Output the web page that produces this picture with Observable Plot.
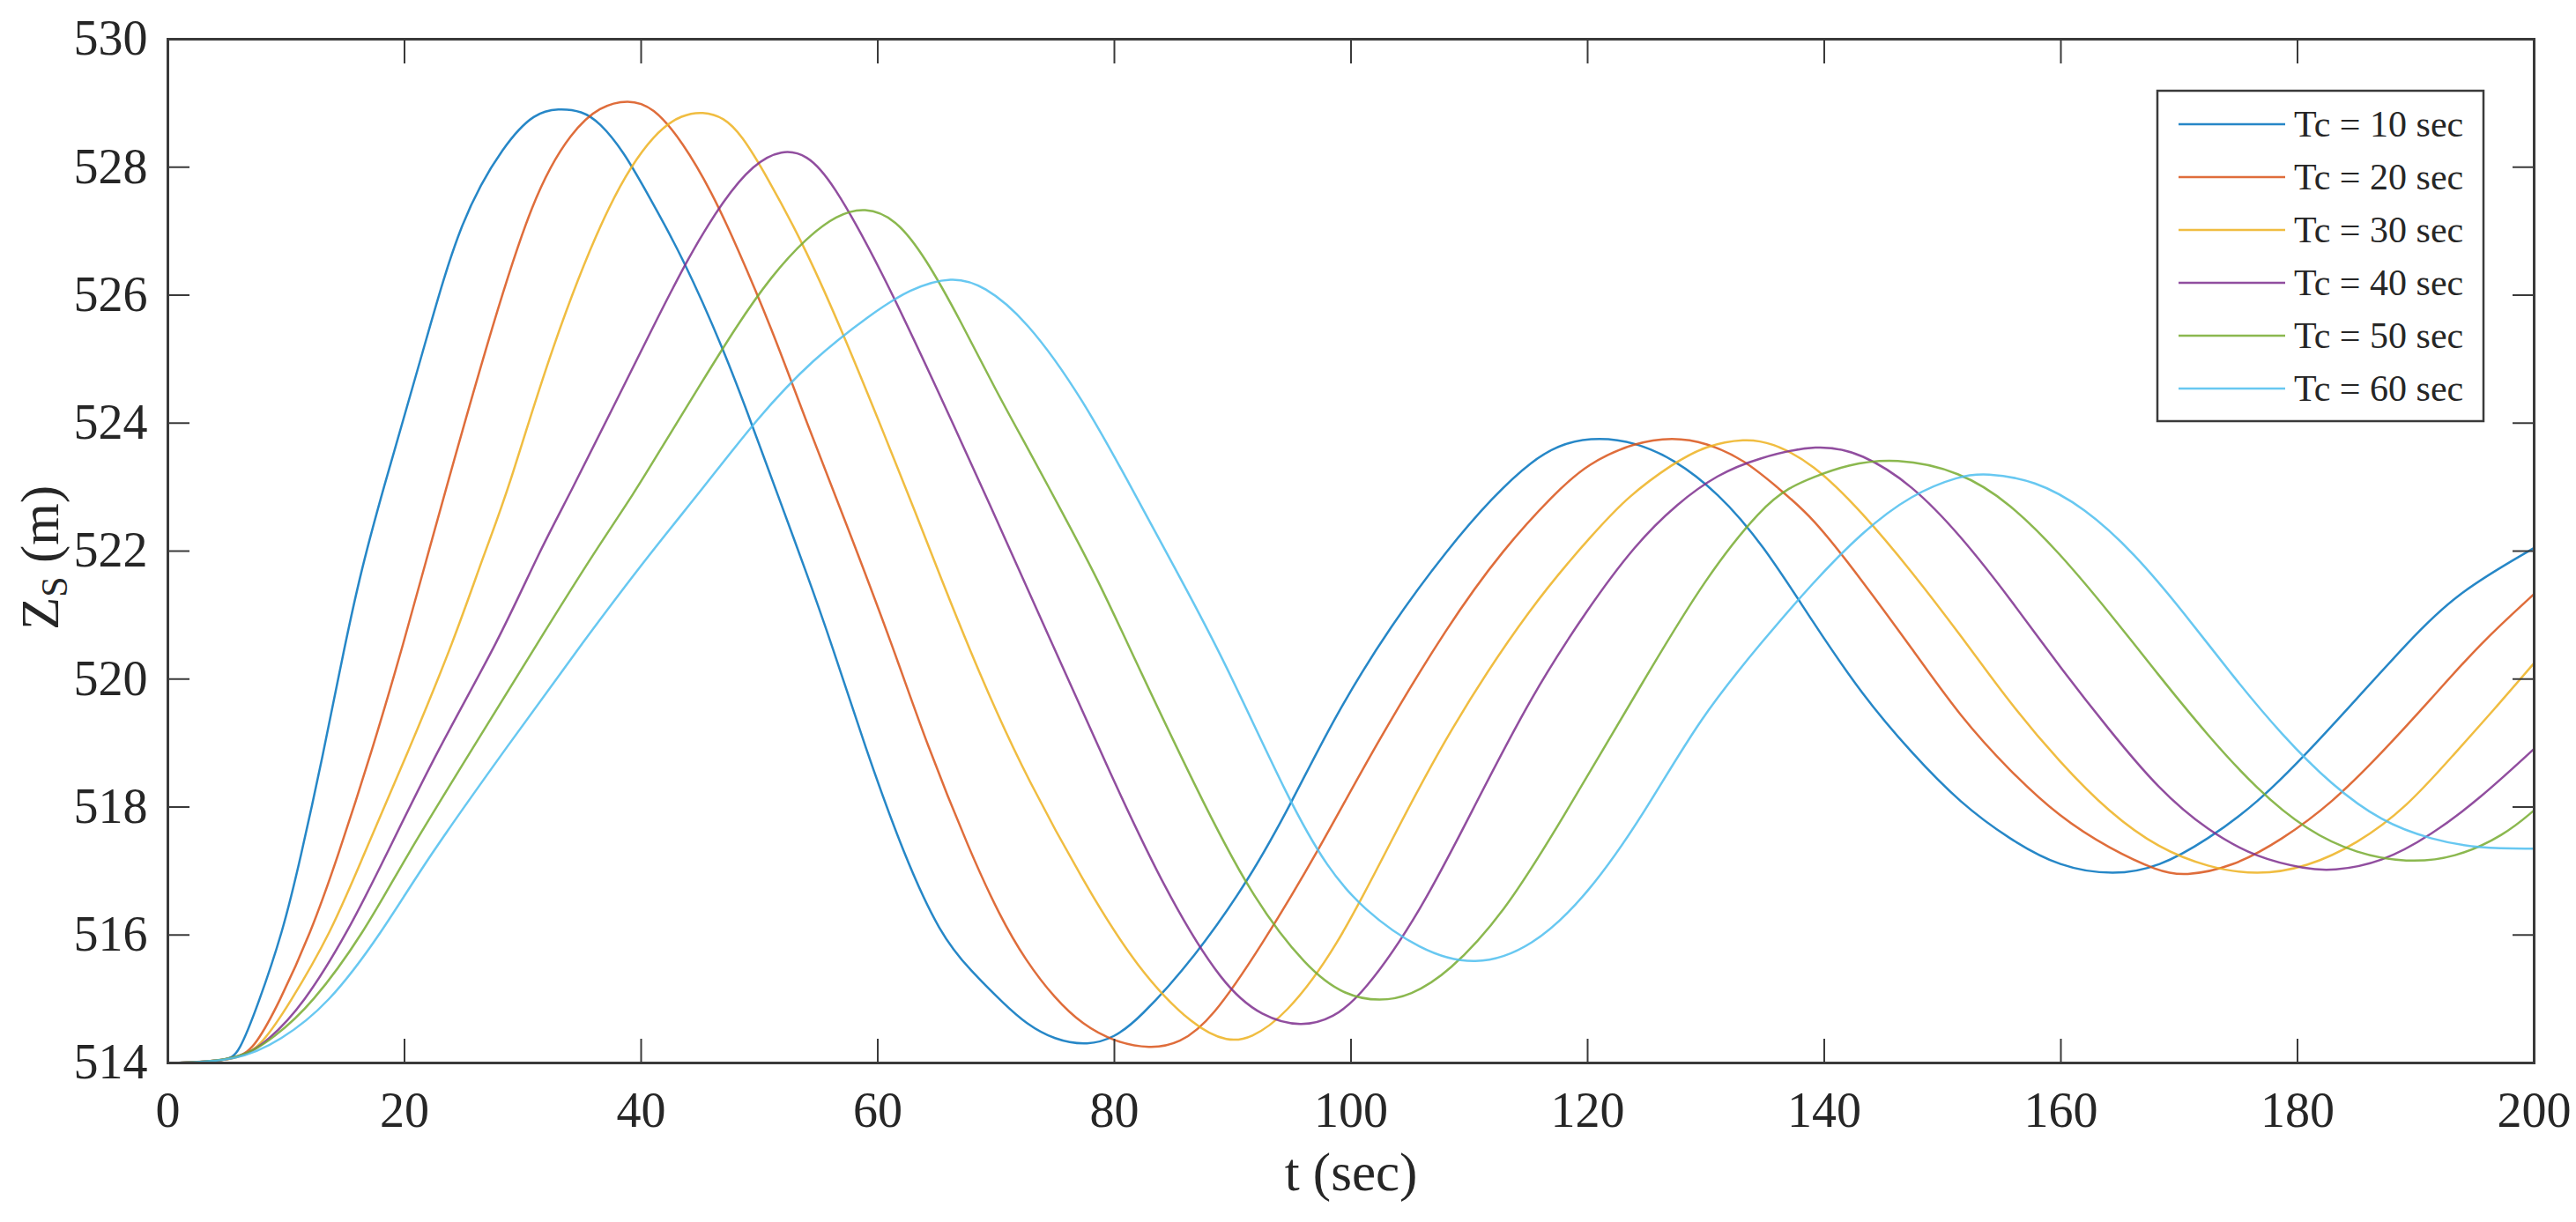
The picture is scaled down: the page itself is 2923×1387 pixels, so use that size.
<!DOCTYPE html>
<html>
<head>
<meta charset="utf-8">
<script src="https://cdn.jsdelivr.net/npm/d3@7"></script>
<script src="https://cdn.jsdelivr.net/npm/@observablehq/plot@0.6"></script>
<style>
  html, body { margin: 0; padding: 0; background: #ffffff; }
  #chart { width: 2923px; height: 1387px; }
</style>
</head>
<body>
<div id="chart"></div>
<script>
// ---------- data ----------
const seriesNames = ["Tc = 10 sec", "Tc = 20 sec", "Tc = 30 sec", "Tc = 40 sec", "Tc = 50 sec", "Tc = 60 sec"];
const seriesColors = ["#0072BD", "#D95319", "#EDB120", "#7E2F8E", "#77AC30", "#4DBEEE"];
const xTicks = [0, 20, 40, 60, 80, 100, 120, 140, 160, 180, 200];
const yTicks = [514, 516, 518, 520, 522, 524, 526, 528, 530];
const xLabel = "t (sec)";
const yLabelMain = "Z";
const yLabelSub = "S";
const yLabelUnit = " (m)";

// [t (sec), Zs (m)]
const tc10 = [[0,514],[5,514.02],[6,514.15],[7.6,514.9],[9.7,516.04],[11.2,517.19],[13.1,518.8],[14.7,520.3],[16.2,521.6],[18,522.85],[21.6,525.14],[24.7,527.2],[28.5,528.38],[31,528.85],[33,528.92],[35,528.88],[36.5,528.7],[38.5,528.25],[40.5,527.6],[43.5,526.6],[47,525.14],[49.4,523.96],[51.5,522.9],[54,521.65],[56.1,520.55],[58.9,518.95],[62.2,517.25],[65.3,516.0],[67.8,515.45],[70.8,514.9],[72.5,514.62],[74.9,514.36],[77.8,514.27],[80,514.4],[82,514.67],[86.8,515.65],[91.5,516.9],[94.9,518.04],[98.7,519.45],[103.4,520.85],[108.2,522.04],[112,522.85],[115.3,523.42],[118,523.7],[121,523.78],[124,523.7],[127.2,523.45],[131,522.92],[134.8,522.11],[139,520.9],[143.2,519.75],[147.4,518.84],[151.5,518.06],[155.7,517.49],[159.9,517.06],[164.5,516.93],[168.3,517.06],[172.4,517.49],[176.6,518.06],[180.8,518.84],[185,519.69],[189.2,520.55],[193.3,521.33],[200,522.05]];
const tc20 = [[0,514],[6,514.03],[7.5,514.3],[9.3,514.9],[12.1,516.04],[14.3,517.19],[17.3,518.9],[20,520.61],[21.9,521.9],[23.4,522.9],[26.8,525.14],[30.9,527.6],[34.2,528.58],[36.5,528.95],[38.9,529.06],[41,528.95],[43.5,528.4],[46,527.6],[48,526.8],[51,525.5],[54,524.0],[57.2,522.5],[61.3,520.5],[64.1,519.0],[67.8,517.3],[70.3,516.3],[72.5,515.6],[75,515.0],[77.3,514.6],[80,514.33],[83,514.22],[85.5,514.3],[88.2,514.67],[92.5,515.85],[97.2,517.3],[102,518.95],[108.2,520.85],[112.9,522.04],[117.2,522.9],[120,523.37],[124,523.7],[127.2,523.78],[130,523.7],[133.3,523.42],[136,523.0],[139,522.54],[143.2,521.54],[147.4,520.48],[151.5,519.41],[155.7,518.56],[159.9,517.84],[164.1,517.35],[168.3,516.99],[170.4,516.92],[174.5,517.06],[178.7,517.49],[182.9,518.06],[187.1,518.84],[191.3,519.69],[195.4,520.55],[200,521.33]];
const tc30 = [[0,514],[6,514.03],[8,514.3],[10.2,514.9],[13.8,516.04],[16.4,517.19],[20.4,518.9],[24.2,520.61],[26.8,522.0],[28.7,522.9],[32.3,525.14],[37.5,527.6],[41.3,528.58],[43.5,528.82],[45.2,528.87],[47,528.78],[48.5,528.5],[50.5,527.9],[54,526.7],[57.3,525.3],[60.6,523.8],[63.2,522.6],[65.5,521.5],[67.9,520.4],[70,519.5],[72.5,518.5],[77.3,516.85],[82,515.45],[86.8,514.55],[89.6,514.33],[91.5,514.38],[94.4,514.73],[98.7,515.76],[103.4,517.47],[108.2,519.18],[115.3,521.18],[120.8,522.34],[123.4,522.85],[127.2,523.37],[130,523.65],[133.3,523.76],[135.5,523.7],[139,523.38],[143.2,522.61],[147.4,521.68],[151.5,520.69],[155.7,519.62],[159.9,518.7],[164.1,517.91],[168.3,517.35],[172.4,517.06],[176.6,516.93],[180.8,517.06],[185,517.42],[189.2,517.99],[193.3,518.84],[196.5,519.5],[200,520.25]];
const tc40 = [[0,514],[6,514.03],[8.5,514.35],[11.4,514.9],[15.2,516.04],[18.3,517.19],[22.8,518.9],[28,520.61],[31.4,522.0],[34,522.9],[37.5,524.2],[41,525.5],[44,526.6],[47,527.5],[49.5,528.05],[51.9,528.28],[54,528.2],[56.1,527.8],[60.3,526.4],[65.1,524.5],[69.3,522.8],[74.5,520.65],[79.7,518.5],[84.4,516.65],[89.2,515.2],[92.5,514.72],[95.8,514.56],[98.5,514.7],[101,515.07],[105.8,516.33],[110.5,518.04],[115.3,519.76],[120,521.1],[124,522.1],[127.6,522.75],[131,523.2],[134.3,523.45],[139.5,523.68],[143.2,523.53],[147.4,523.04],[151.5,522.25],[155.7,521.26],[159.9,520.19],[164.1,519.2],[168.3,518.27],[172.4,517.63],[176.6,517.2],[180.8,517.03],[182.9,517.0],[187.1,517.13],[191.3,517.56],[195.4,518.13],[200,518.91]];
const tc50 = [[0,514],[6,514.03],[9,514.4],[12.1,514.9],[16.6,516.04],[20,517.19],[25.7,518.9],[31.4,520.61],[36.1,522.0],[39.4,522.9],[42,523.7],[45,524.6],[48,525.5],[51,526.3],[54,526.9],[56.5,527.25],[58.9,527.38],[61.5,527.2],[64,526.6],[67,525.6],[70,524.5],[73,523.5],[75.6,522.6],[78.5,521.6],[82,520.2],[86.8,518.33],[91.5,516.62],[96.3,515.47],[99.5,515.05],[102.5,514.96],[105,515.05],[108.2,515.4],[112.9,516.33],[117.7,517.76],[124.8,520.0],[130,521.6],[134.8,522.7],[137.1,523.0],[139,523.15],[141.9,523.35],[146,523.46],[151.5,523.25],[155.7,522.75],[159.9,521.97],[164.1,521.04],[168.3,520.05],[172.4,519.12],[176.6,518.27],[180.8,517.63],[185,517.27],[189.2,517.13],[193.3,517.2],[197.5,517.56],[200,517.95]];
const tc60 = [[0,514],[6,514.03],[9.5,514.35],[13.5,514.9],[18.1,516.04],[21.9,517.19],[28.5,518.9],[35.2,520.61],[40.9,522.0],[45.1,522.95],[49.9,524.1],[54.5,525.0],[59.4,525.7],[62.7,526.1],[66.3,526.3],[69,526.15],[72.5,525.63],[77.3,524.4],[82,522.8],[85.5,521.6],[89.2,520.33],[94.9,518.04],[98,517.05],[101,516.4],[105.8,515.76],[110.5,515.5],[115.3,515.8],[120,516.62],[124.8,517.9],[129.5,519.4],[134.8,520.6],[139,521.5],[143.2,522.3],[147.4,522.89],[151.5,523.18],[153.6,523.22],[157.8,523.11],[162,522.68],[166.2,521.97],[170.4,521.04],[174.5,520.05],[178.7,519.12],[182.9,518.34],[187.1,517.77],[191.3,517.49],[195.4,517.35],[200,517.35]];

const seriesData = [tc10, tc20, tc30, tc40, tc50, tc60];
const rows = seriesData.flatMap((arr, i) => arr.map(([t, z]) => ({t, z, series: seriesNames[i]})));

// ---------- layout ----------
const W = 2923, H = 1387;
const mL = 190, mR = 48, mT = 44, mB = 181;
const FONT = "'Liberation Serif', 'Times New Roman', serif";
const axisColor = "#3a3a3a";
const blank = () => "";
const intFmt = d => String(d);

const chart = Plot.plot({
  width: W, height: H,
  marginLeft: mL, marginRight: mR, marginTop: mT, marginBottom: mB,
  style: {fontFamily: FONT, fontSize: "56px", color: "#262626", background: "#ffffff", overflow: "visible"},
  x: {domain: [0, 200]},
  y: {domain: [514, 530]},
  color: {domain: seriesNames, range: seriesColors},
  marks: [
    Plot.line(rows, {x: "t", y: "z", z: "series", stroke: "series", strokeWidth: 2.5, strokeOpacity: 0.85, curve: "basis"}),
    // tick labels
    Plot.axisX(xTicks, {anchor: "bottom", tickSize: 0, tickPadding: 33, tickFormat: intFmt, label: null, fontSize: 56, fill: "#262626"}),
    Plot.axisY(yTicks, {anchor: "left", tickSize: 0, tickPadding: 23, tickFormat: intFmt, label: null, fontSize: 56, fill: "#262626"}),
    // inward ticks on all four sides
    Plot.axisX(xTicks, {anchor: "bottom", tickSize: 27, dy: -27, tickFormat: blank, label: null, stroke: axisColor, strokeWidth: 2}),
    Plot.axisX(xTicks, {anchor: "top", tickSize: 27, dy: 27, tickFormat: blank, label: null, stroke: axisColor, strokeWidth: 2}),
    Plot.axisY(yTicks, {anchor: "left", tickSize: 25, dx: 25, tickFormat: blank, label: null, stroke: axisColor, strokeWidth: 2}),
    Plot.axisY(yTicks, {anchor: "right", tickSize: 25, dx: -25, tickFormat: blank, label: null, stroke: axisColor, strokeWidth: 2}),
    Plot.frame({stroke: axisColor, strokeWidth: 3}),
    Plot.text([xLabel], {frameAnchor: "bottom", dy: 101, lineAnchor: "top", fontSize: 61, fill: "#262626", fontFamily: FONT})
  ]
});

document.getElementById("chart").appendChild(chart);

// ---------- y label with subscript ----------
const svg = d3.select(chart);
const yl = svg.append("text")
  .attr("transform", `translate(66, ${(mT + (H - mB)) / 2 + 8}) rotate(-90)`)
  .attr("text-anchor", "middle")
  .attr("font-family", FONT)
  .attr("font-size", 61)
  .attr("fill", "#262626");
yl.append("tspan").text(yLabelMain);
yl.append("tspan").attr("font-size", 42).attr("dy", 10).text(yLabelSub);
yl.append("tspan").attr("dy", -10).text(yLabelUnit);

// ---------- legend ----------
const lg = svg.append("g").attr("class", "legend").attr("text-anchor", "start");
const lgX = 2448, lgY = 103, lgW = 370, lgH = 375, rowH = 60, firstRow = 141;
lg.append("rect").attr("x", lgX).attr("y", lgY).attr("width", lgW).attr("height", lgH)
  .attr("fill", "#ffffff").attr("stroke", axisColor).attr("stroke-width", 2.5);
seriesNames.forEach((name, i) => {
  const cy = firstRow + i * rowH;
  lg.append("line").attr("x1", 2472).attr("x2", 2593).attr("y1", cy).attr("y2", cy)
    .attr("stroke", seriesColors[i]).attr("stroke-opacity", 0.85).attr("stroke-width", 2.5);
  lg.append("text").attr("x", 2603).attr("y", cy).attr("dy", "0.33em")
    .attr("text-anchor", "start")
    .attr("font-family", FONT).attr("font-size", 42).attr("fill", "#262626").text(name);
});
</script>
</body>
</html>
